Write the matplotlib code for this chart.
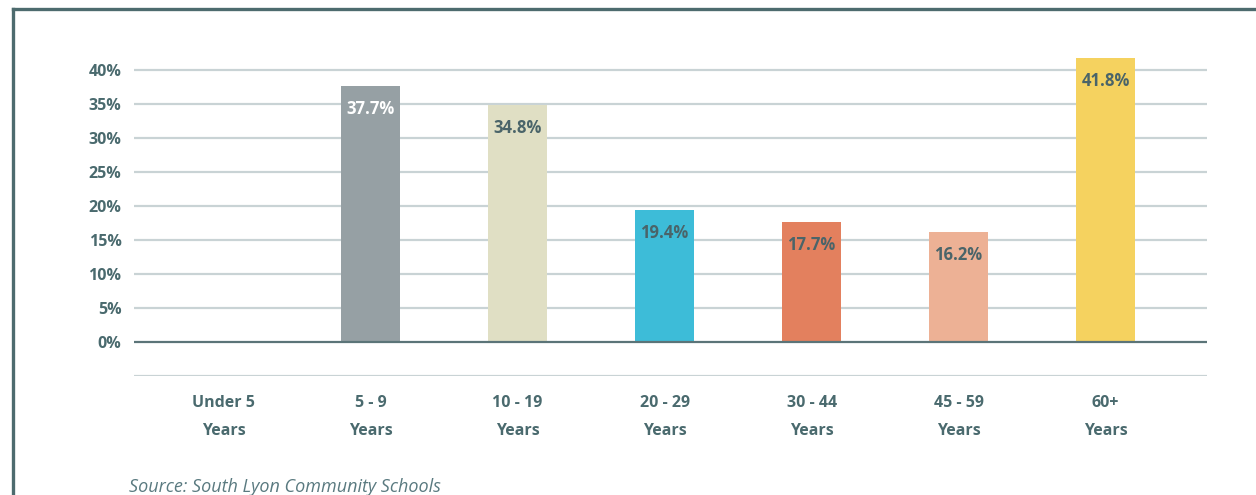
import matplotlib

matplotlib.use("Agg")
import matplotlib.pyplot as plt
from matplotlib.lines import Line2D

categories = ["Under 5\nYears", "5 - 9\nYears", "10 - 19\nYears", "20 - 29\nYears",
              "30 - 44\nYears", "45 - 59\nYears", "60+\nYears"]
values = [0.0, 37.7, 34.8, 19.4, 17.7, 16.2, 41.8]
bar_colors = ["#96a0a4", "#96a0a4", "#e0dfc4", "#3dbcd8", "#e3805e", "#edb195", "#f5d25f"]
label_colors = ["#ffffff", "#ffffff", "#4a6469", "#4a6469", "#4a6469", "#4a6469", "#4a6469"]
yticks = [0, 5, 10, 15, 20, 25, 30, 35, 40]
source = "Source: South Lyon Community Schools"

TEXT = "#4a6a6e"
plt.rcParams["font.family"] = ["Open Sans", "DejaVu Sans"]

fig = plt.figure(figsize=(12.56, 4.95), dpi=100)
ax = fig.add_axes([0.1067, 0.2404, 0.8543, 0.6456])

x = list(range(len(categories)))
for v in [-5] + yticks[1:]:
    ax.axhline(v, color="#c9d3d5", lw=1.6, zorder=1)
ax.axhline(0, color="#5b7478", lw=1.6, zorder=3)

bars = ax.bar(x, values, width=0.40, color=bar_colors, zorder=2)
for xi, v, c in zip(x, values, label_colors):
    if v <= 0:
        continue
    ax.annotate(f"{v:.1f}%", (xi, v), xytext=(0, -10), textcoords="offset points",
                ha="center", va="top", fontsize=12, fontweight="bold", color=c, zorder=4)

ax.set_xlim(-0.609, 6.690)
ax.set_ylim(-5, 42)
ax.set_yticks(yticks)
ax.set_yticklabels([f"{t}%" for t in yticks])
ax.set_xticks(x)
ax.set_xticklabels(categories, linespacing=2.0)
ax.tick_params(axis="y", length=0, labelsize=11.5, labelcolor=TEXT, pad=9)
ax.tick_params(axis="x", length=0, labelsize=11.5, labelcolor=TEXT, pad=14)
for lab in ax.get_xticklabels() + ax.get_yticklabels():
    lab.set_fontweight("bold")
for s in ax.spines.values():
    s.set_visible(False)

fig.text(129 / 1256, 1 - 487 / 495, source, fontsize=13, style="italic",
         color="#5a7a80", ha="left", va="center")

# outer frame (only left and top edges visible in the crop)
fig.add_artist(Line2D([12.5 / 1256, 12.5 / 1256], [0, 1 - 9 / 495], color="#4d6b6e", lw=2.4))
fig.add_artist(Line2D([12.5 / 1256, 1], [1 - 9 / 495, 1 - 9 / 495], color="#4d6b6e", lw=2.4))

fig.savefig("out.png", dpi=100)
